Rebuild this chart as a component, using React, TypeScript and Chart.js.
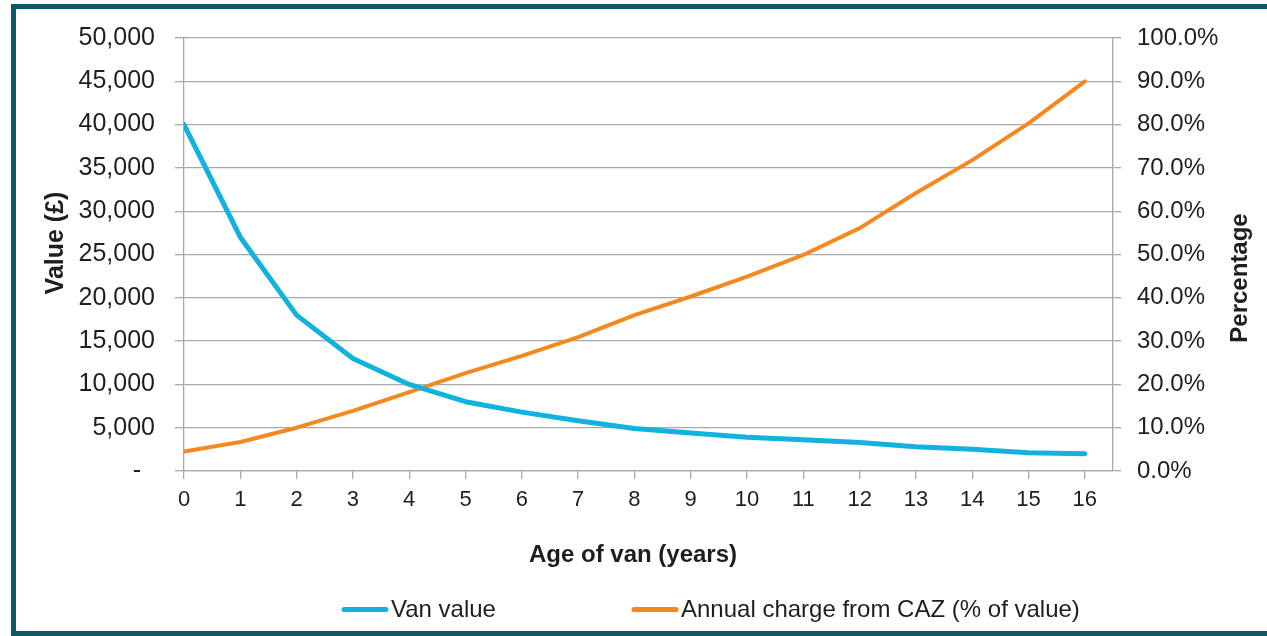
import React, { useEffect, useRef } from 'react';
import { Chart, registerables } from 'chart.js';

Chart.register(...registerables);

// ---- data ----
const ages: number[] = [0, 1, 2, 3, 4, 5, 6, 7, 8, 9, 10, 11, 12, 13, 14, 15, 16];
const vanValue: number[] = [40000, 27000, 18000, 13000, 10000, 8000, 6800, 5800, 4900, 4400, 3900, 3600, 3300, 2800, 2500, 2100, 2000];
const cazPercent: number[] = [4.5, 6.7, 10.0, 13.9, 18.2, 22.6, 26.6, 30.9, 36.0, 40.3, 44.9, 49.9, 56.1, 64.2, 71.8, 80.3, 90.0];
const seriesLabels: string[] = ['Van value', 'Annual charge from CAZ (% of value)'];
const xTitle = 'Age of van (years)';
const yTitle = 'Value (£)';
const y1Title = 'Percentage';

const BLUE = '#11b2de';
const ORANGE = '#f5891f';
const GRID = '#a8a8a8';
const TEXT = '#1e1e1e';
const FONT = '"Liberation Sans", Arial, Helvetica, sans-serif';

const W = 1267;
const H = 636;

const overlayPlugin = {
  id: 'overlayText',
  afterDraw(chart: any) {
    const ctx: CanvasRenderingContext2D = chart.ctx;
    ctx.save();
    ctx.fillStyle = TEXT;
    ctx.font = `bold 24px ${FONT}`;
    ctx.textBaseline = 'alphabetic';
    ctx.textAlign = 'center';
    // x-axis title
    ctx.fillText(xTitle, 633, 562);
    // left title
    ctx.save();
    ctx.font = `bold 25px ${FONT}`;
    ctx.translate(63, 243);
    ctx.rotate(-Math.PI / 2);
    ctx.fillText(yTitle, 0, 0);
    ctx.restore();
    // right title
    ctx.save();
    ctx.translate(1247, 278);
    ctx.rotate(-Math.PI / 2);
    ctx.fillText(y1Title, 0, 0);
    ctx.restore();

    // legend
    const legendX = [342, 632];
    const lineW = 46;
    ctx.font = `24px ${FONT}`;
    ctx.textAlign = 'left';
    chart.data.datasets.forEach((ds: any, i: number) => {
      const x = legendX[i];
      ctx.strokeStyle = ds.borderColor;
      ctx.lineWidth = 5;
      ctx.lineCap = 'round';
      ctx.beginPath();
      ctx.moveTo(x + 2, 609.5);
      ctx.lineTo(x + lineW - 2, 609.5);
      ctx.stroke();
      ctx.fillStyle = TEXT;
      ctx.fillText(ds.label, x + lineW + 3, 617);
    });
    ctx.restore();
  },
};

export default function App() {
  const canvasRef = useRef<HTMLCanvasElement | null>(null);

  useEffect(() => {
    const canvas = canvasRef.current;
    if (!canvas) return;
    const chart = new Chart(canvas, {
      type: 'line',
      data: {
        datasets: [
          {
            label: seriesLabels[0],
            data: ages.map((a, i) => ({ x: a, y: vanValue[i] })),
            borderColor: BLUE,
            backgroundColor: BLUE,
            borderWidth: 5,
            borderCapStyle: 'round',
            borderJoinStyle: 'round',
            pointRadius: 0,
            tension: 0,
            yAxisID: 'y',
          },
          {
            label: seriesLabels[1],
            data: ages.map((a, i) => ({ x: a, y: cazPercent[i] })),
            borderColor: ORANGE,
            backgroundColor: ORANGE,
            borderWidth: 4,
            borderCapStyle: 'round',
            borderJoinStyle: 'round',
            pointRadius: 0,
            tension: 0,
            yAxisID: 'y1',
          },
        ],
      },
      options: {
        responsive: false,
        animation: false,
        devicePixelRatio: 1,
        layout: { padding: { left: 0, right: 0, top: 38, bottom: 0 } },
        plugins: {
          legend: { display: false },
          tooltip: { enabled: false },
        },
        scales: {
          x: {
            type: 'linear',
            min: 0,
            max: 16.5,
            afterBuildTicks: (scale: any) => {
              scale.ticks = ages.map((v) => ({ value: v }));
            },
            afterFit: (scale: any) => {
              scale.height = H - 471;
            },
            grid: {
              drawOnChartArea: false,
              drawTicks: true,
              tickLength: 8,
              color: GRID,
              lineWidth: 1.3,
            },
            border: { display: true, color: GRID, width: 1.3 },
            ticks: {
              color: TEXT,
              font: { family: FONT, size: 22 },
              padding: 8,
              maxRotation: 0,
              autoSkip: false,
              callback: (v: any) => String(v),
            },
          },
          y: {
            type: 'linear',
            position: 'left',
            min: 0,
            max: 50000,
            afterFit: (scale: any) => {
              scale.width = 184;
            },
            grid: {
              drawOnChartArea: true,
              drawTicks: true,
              tickLength: 9,
              color: GRID,
              lineWidth: 1.3,
            },
            border: { display: true, color: GRID, width: 1.3 },
            ticks: {
              stepSize: 5000,
              color: TEXT,
              font: { family: FONT, size: 25 },
              padding: 20,
              callback: (v: any) => (v === 0 ? '-  ' : Number(v).toLocaleString('en-GB')),
            },
          },
          y1: {
            type: 'linear',
            position: 'right',
            min: 0,
            max: 100,
            afterFit: (scale: any) => {
              scale.width = W - 1113;
            },
            grid: {
              drawOnChartArea: false,
              drawTicks: true,
              tickLength: 8,
              color: GRID,
              lineWidth: 1.3,
            },
            border: { display: true, color: GRID, width: 1.3 },
            ticks: {
              stepSize: 10,
              color: TEXT,
              font: { family: FONT, size: 24 },
              padding: 16,
              callback: (v: any) => Number(v).toFixed(1) + '%',
            },
          },
        },
      },
      plugins: [overlayPlugin],
    } as any);
    return () => chart.destroy();
  }, []);

  return (
    <div
      style={{
        position: 'fixed',
        left: 0,
        top: 0,
        width: W,
        height: H,
        overflow: 'hidden',
        background: '#ffffff',
      }}
    >
      <canvas ref={canvasRef} width={W} height={H} style={{ display: 'block', width: W, height: H }} />
      <div
        style={{
          position: 'absolute',
          left: 11,
          top: 4,
          width: 1262,
          height: 632,
          border: '5px solid #0e5868',
          boxSizing: 'border-box',
          pointerEvents: 'none',
        }}
      />
    </div>
  );
}
